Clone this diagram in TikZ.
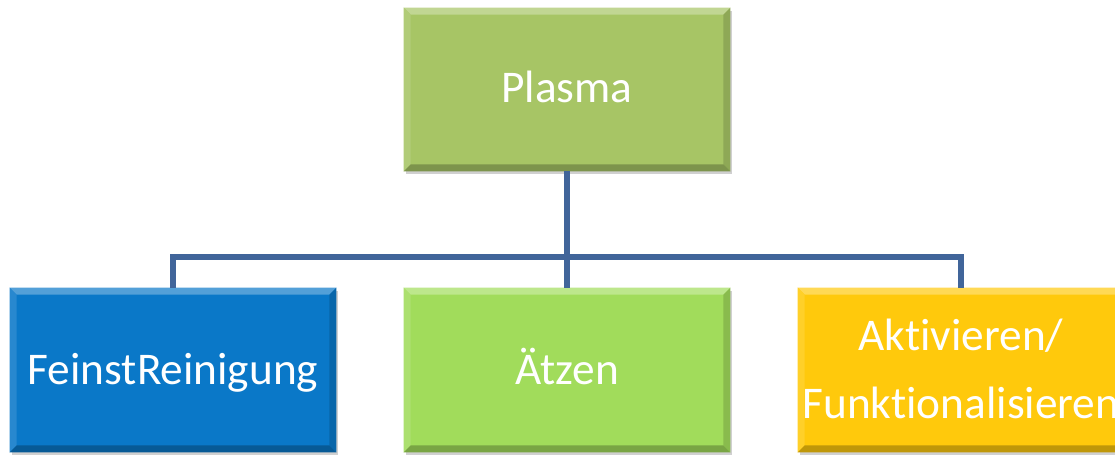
\documentclass[tikz,border=0pt]{standalone}
\usepackage{fontspec}
\setmainfont[RawFeature=-liga]{Carlito}
\usetikzlibrary{calc,shadows}
\definecolor{plasmaC}{HTML}{A7C565}
\definecolor{aetzC}{HTML}{A1DC5B}
\definecolor{feinC}{HTML}{0A78C8}
\definecolor{aktC}{HTML}{FFC90C}
\definecolor{lineC}{HTML}{41659A}
\newcommand{\mybevel}[2]{%
  \fill[#2!70!white] (#1.north west) -- (#1.north east) -- ($(#1.north east)+(-7,7)$) -- ($(#1.north west)+(7,7)$) -- cycle;
  \fill[#2!88!white] (#1.north west) -- ($(#1.north west)+(7,7)$) -- ($(#1.south west)+(7,-7)$) -- (#1.south west) -- cycle;
  \fill[#2!85!black] (#1.north east) -- ($(#1.north east)+(-7,7)$) -- ($(#1.south east)+(-7,-7)$) -- (#1.south east) -- cycle;
  \fill[#2!75!black] (#1.south west) -- ($(#1.south west)+(7,-7)$) -- ($(#1.south east)+(-7,-7)$) -- (#1.south east) -- cycle;
}
\begin{document}
\begin{tikzpicture}[x=0.75pt,y=-0.75pt,
  boxstyle/.style={rectangle, inner sep=0pt, minimum width=326*0.75pt, minimum height=164*0.75pt,
    drop shadow={shadow xshift=1.5pt, shadow yshift=-2.5pt, opacity=0.3, fill=black!60}},
  lbl/.style={text=white, font=\fontsize{34}{51}\selectfont, inner sep=0pt, anchor=base, align=center},
  conn/.style={draw=lineC, line width=4.2pt}]
\useasboundingbox (0,0) rectangle (1115,454);
\clip (0,0) rectangle (1115,454);
\fill[white] (0,0) rectangle (1115,454);
\coordinate (bus) at (567,257);
\node[boxstyle, fill=plasmaC, minimum height=163*0.75pt] (plasma) at (567,89.5) {};
\node[boxstyle, fill=feinC] (fein) at (173,370) {};
\node[boxstyle, fill=aetzC] (aetz) at (567,370) {};
\node[boxstyle, fill=aktC] (akt) at (961,370) {};
\mybevel{plasma}{plasmaC}
\mybevel{fein}{feinC}
\mybevel{aetz}{aetzC}
\mybevel{akt}{aktC}
\draw[conn] (plasma.south) -- (bus);
\draw[conn] (aetz.north) -- (bus);
\draw[conn] (fein.north) |- (bus);
\draw[conn] (akt.north) |- (bus);
\node[lbl] (tplasma) at (567,102) {Plasma};
\node[lbl] (tfein) at (173,384) {FeinstReinigung};
\node[lbl] (taetz) at (567,384) {Ätzen};
\node[lbl] (takt) at (961,418) {Aktivieren/\\Funktionalisieren};
\end{tikzpicture}
\end{document}
